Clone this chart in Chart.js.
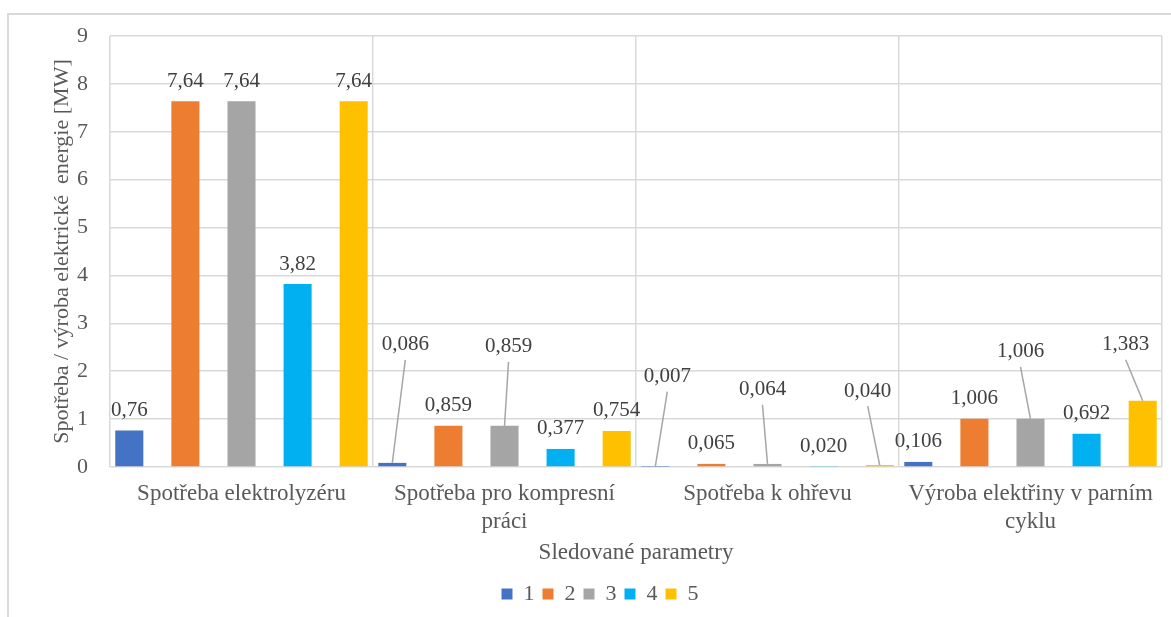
<!DOCTYPE html>
<html>
<head>
<meta charset="utf-8">
<script src="https://cdn.jsdelivr.net/npm/chart.js@4"></script>
<style>
  html, body { margin: 0; padding: 0; background: #fff; }
  #wrap { width: 1171px; height: 617px; }
</style>
</head>
<body>
<div id="wrap"><canvas id="graf" width="1171" height="617"></canvas></div>
<script>
// kategorie na ose x
var kategorie = [
  'Spotřeba elektrolyzéru',
  ['Spotřeba pro kompresní', 'práci'],
  'Spotřeba k ohřevu',
  ['Výroba elektřiny v parním', 'cyklu']
];
var nazvyRad = ['1', '2', '3', '4', '5'];
var rada1 = [0.76, 0.086, 0.007, 0.106];
var rada2 = [7.64, 0.859, 0.065, 1.006];
var rada3 = [7.64, 0.859, 0.064, 1.006];
var rada4 = [3.82, 0.377, 0.020, 0.692];
var rada5 = [7.64, 0.754, 0.040, 1.383];
var desetinna = [2, 3, 3, 3];   // pocet desetinnych mist popisku v kategorii
var barvy = ['#4472C4', '#ED7D31', '#A5A5A5', '#00B0F0', '#FFC000'];

// posunute popisky (dx, dy od vrcholu sloupce) - ty maji odkazovou caru
var posun = [
  [null, [13, -118], [12, -90], null],
  [null, null, null, null],
  [null, [4, -79], [-5, -74], [-10, -67]],
  [null, null, null, null],
  [null, null, [-12, -74], [-17, -56]]
];

var font = 'Liberation Serif, Times New Roman, serif';

let ramecek = {
  id: 'ramecek',
  beforeDraw(chart) {
    let c = chart.ctx;
    c.save();
    c.fillStyle = '#fff';
    c.fillRect(0, 0, chart.width, chart.height);
    c.strokeStyle = '#d9d9d9';
    c.lineWidth = 2;
    c.beginPath();
    c.moveTo(7, 14);
    c.lineTo(chart.width, 14);
    c.moveTo(8, 14);
    c.lineTo(8, chart.height);
    c.stroke();
    c.restore();
  },
  // legenda je v puvodnim grafu trochu vpravo od stredu
  afterLayout(chart) {
    chart.legend.left += 19;
    chart.legend.right += 19;
  }
};

let popisky = {
  id: 'popisky',
  afterDatasetsDraw(chart) {
    let c = chart.ctx;
    c.save();
    c.font = '21px ' + font;
    c.textAlign = 'center';
    c.textBaseline = 'middle';
    chart.data.datasets.forEach((ds, i) => {
      let meta = chart.getDatasetMeta(i);
      meta.data.forEach((bar, j) => {
        let text = ds.data[j].toFixed(desetinna[j]).replace('.', ',');
        let p = posun[i][j];
        let x = bar.x, y = bar.y - 20;
        if (p) {
          x = bar.x + p[0];
          y = bar.y + p[1];
          c.strokeStyle = '#a6a6a6';
          c.lineWidth = 1.5;
          c.beginPath();
          c.moveTo(x, y + 15);
          c.lineTo(bar.x, bar.y);
          c.stroke();
        }
        c.fillStyle = '#404040';
        c.fillText(text, x, y);
      });
    });
    c.restore();
  }
};

let rady = [rada1, rada2, rada3, rada4, rada5];
let ctx = document.getElementById('graf');
let graf = new Chart(ctx, {
  type: 'bar',
  data: {
    labels: kategorie,
    datasets: rady.map((r, i) => ({
      label: nazvyRad[i],
      data: r,
      backgroundColor: barvy[i],
      borderWidth: 0,
      categoryPercentage: 1.0665,
      barPercentage: 0.5
    }))
  },
  options: {
    responsive: false,
    animation: false,
    layout: { padding: { top: 36, left: 0, right: 9, bottom: 2 } },
    plugins: {
      tooltip: { enabled: false },
      legend: {
        position: 'bottom',
        labels: {
          font: { family: font, size: 22 },
          color: '#595959',
          boxWidth: 11,
          boxHeight: 11,
          padding: 8
        }
      }
    },
    scales: {
      x: {
        grid: { color: '#d9d9d9', lineWidth: 1.5, drawTicks: false },
        border: { display: false },
        ticks: {
          color: '#595959',
          font: { family: font, size: 23, lineHeight: 1.22 },
          padding: 13,
          maxRotation: 0,
          autoSkip: false
        },
        title: {
          display: true,
          text: 'Sledované parametry',
          color: '#595959',
          font: { family: font, size: 23 },
          padding: { top: 0, bottom: 8 }
        },
        afterFit: s => { s.height = 108; }
      },
      y: {
        min: 0,
        max: 9,
        grid: { color: '#d9d9d9', lineWidth: 1.5, drawTicks: false },
        border: { display: false },
        ticks: {
          stepSize: 1,
          color: '#595959',
          font: { family: font, size: 22 },
          padding: 22
        },
        title: {
          display: true,
          text: 'Spotřeba / výroba elektrické  energie [MW]',
          color: '#595959',
          font: { family: font, size: 22 },
          padding: { top: 49, bottom: 0 }
        },
        afterFit: s => { s.width = 110; }
      }
    }
  },
  plugins: [ramecek, popisky]
});
</script>
</body>
</html>
